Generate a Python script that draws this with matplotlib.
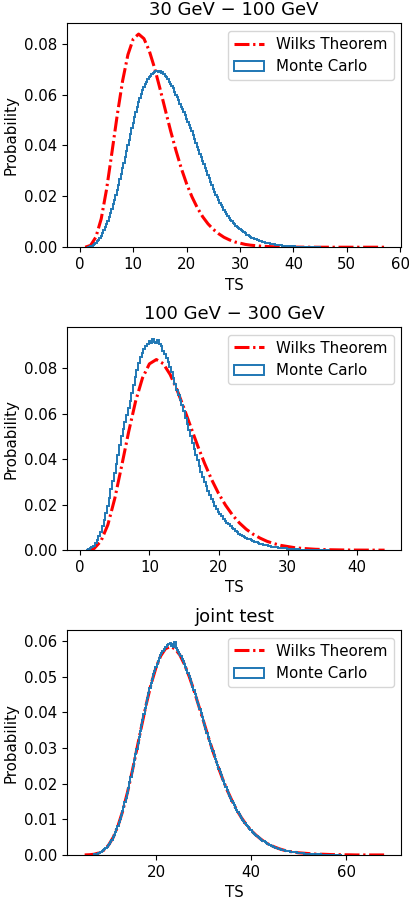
import matplotlib
matplotlib.use('Agg')
import matplotlib.pyplot as plt
import numpy as np

plt.rcParams['font.size'] = 10.8

# titles of the three energy bands
titles = ['30 GeV \u2212 100 GeV', '100 GeV \u2212 300 GeV', 'joint test']

# Wilks theorem curve, TS = 1, 2, 3, ...
wilks_13 = [0.00002, 0.0007, 0.0040, 0.0112, 0.0228, 0.0372, 0.0520, 0.0654, 0.0757, 0.0819,
            0.0838, 0.0820, 0.0772, 0.0704, 0.0624, 0.0540, 0.0457, 0.0380, 0.0310, 0.0249,
            0.0198, 0.0155, 0.0120, 0.0092, 0.0070, 0.0053, 0.0039, 0.0029, 0.0021, 0.0016,
            0.0011, 0.0008, 0.0006, 0.0004, 0.0003, 0.0002, 0.00015, 0.0001, 0.00007, 0.00005,
            0.00004, 0.00003, 0.00002, 0.00001, 0, 0, 0, 0, 0, 0,
            0, 0, 0, 0, 0, 0, 0]
# joint test Wilks curve, TS = 5, 6, 7, ...
wilks_25 = [0.00001, 0.00006, 0.0002, 0.00056, 0.0013, 0.0027, 0.0049, 0.0081, 0.0123, 0.0175,
            0.0234, 0.0298, 0.0363, 0.0425, 0.0480, 0.0525, 0.0558, 0.0578, 0.0584, 0.0578,
            0.0561, 0.0534, 0.0500, 0.0461, 0.0418, 0.0375, 0.0331, 0.0290, 0.0250, 0.0214,
            0.0181, 0.0152, 0.0126, 0.0104, 0.0085, 0.0069, 0.0056, 0.0045, 0.0035, 0.0028,
            0.0022, 0.0017, 0.0013, 0.0010, 0.0008, 0.0006, 0.0005, 0.0004, 0.0003, 0.0002,
            0.0002, 0.00015, 0.0001, 0.00008, 0.00006, 0.00004, 0.00003, 0, 0, 0,
            0, 0, 0, 0]

# Monte Carlo histograms, bins 0.25 wide, first bin centre given
mc1_start = 1.5
mc1 = [0.0001, 0.0002, 0.0003, 0.0005, 0.0008, 0.0012, 0.0017, 0.0023,
       0.0029, 0.0037, 0.0045, 0.0055, 0.0066, 0.0078, 0.0090, 0.0104,
       0.0118, 0.0134, 0.0150, 0.0168, 0.0186, 0.0206, 0.0225, 0.0246,
       0.0267, 0.0288, 0.0310, 0.0333, 0.0355, 0.0378, 0.0400, 0.0423,
       0.0446, 0.0468, 0.0490, 0.0511, 0.0532, 0.0552, 0.0570, 0.0587,
       0.0602, 0.0617, 0.0630, 0.0641, 0.0650, 0.0661, 0.0668, 0.0674,
       0.0682, 0.0685, 0.0688, 0.0692, 0.0694, 0.0689, 0.0692, 0.0686,
       0.0688, 0.0680, 0.0675, 0.0669, 0.0662, 0.0650, 0.0640, 0.0633,
       0.0624, 0.0611, 0.0600, 0.0590, 0.0578, 0.0565, 0.0553, 0.0544,
       0.0532, 0.0518, 0.0505, 0.0493, 0.0480, 0.0468, 0.0455, 0.0441,
       0.0426, 0.0410, 0.0395, 0.0382, 0.0368, 0.0354, 0.0340, 0.0326,
       0.0312, 0.0299, 0.0285, 0.0271, 0.0257, 0.0243, 0.0230, 0.0218,
       0.0207, 0.0196, 0.0185, 0.0175, 0.0166, 0.0157, 0.0148, 0.0139,
       0.0131, 0.0123, 0.0115, 0.0108, 0.0102, 0.0096, 0.0090, 0.0085,
       0.0080, 0.0075, 0.0070, 0.0066, 0.0062, 0.0058, 0.0054, 0.0050,
       0.0047, 0.0044, 0.0041, 0.0038, 0.0036, 0.0033, 0.0031, 0.0029,
       0.0027, 0.0025, 0.0023, 0.0021, 0.0020, 0.0018, 0.0017, 0.0016,
       0.0015, 0.0014, 0.0013, 0.0012, 0.0011, 0.0010, 0.0009, 0.0008,
       0.0007, 0.0007, 0.0006, 0.0006, 0.0005, 0.0005, 0.0004, 0.0004,
       0.0004, 0.0003, 0.0003, 0.0003, 0.0002, 0.0002, 0.0002, 0.0002,
       0.0001, 0.0001, 0.0001, 0.0001, 0.0001, 0.0001, 0.0001, 0.0,
       0.0, 0.0001, 0.0, 0.0, 0.0, 0.0, 0.0]

mc2_start = 1.0
mc2 = [0.0002, 0.0004, 0.0008, 0.0013, 0.0020, 0.0031, 0.0045, 0.0061,
       0.0080, 0.0105, 0.0133, 0.0163, 0.0195, 0.0230, 0.0267, 0.0303,
       0.0340, 0.0380, 0.0420, 0.0461, 0.0500, 0.0533, 0.0565, 0.0596,
       0.0625, 0.0656, 0.0690, 0.0726, 0.0760, 0.0793, 0.0822, 0.0848,
       0.0868, 0.0885, 0.0898, 0.0906, 0.0918, 0.0912, 0.0928, 0.0915,
       0.0910, 0.0922, 0.0905, 0.0897, 0.0875, 0.0862, 0.0845, 0.0826,
       0.0805, 0.0782, 0.0755, 0.0731, 0.0705, 0.0684, 0.0660, 0.0636,
       0.0610, 0.0583, 0.0555, 0.0528, 0.0500, 0.0472, 0.0445, 0.0420,
       0.0395, 0.0370, 0.0345, 0.0322, 0.0300, 0.0280, 0.0260, 0.0242,
       0.0225, 0.0210, 0.0196, 0.0183, 0.0170, 0.0159, 0.0149, 0.0139,
       0.0130, 0.0121, 0.0113, 0.0105, 0.0098, 0.0091, 0.0085, 0.0079,
       0.0073, 0.0068, 0.0063, 0.0059, 0.0055, 0.0051, 0.0047, 0.0043,
       0.0040, 0.0037, 0.0034, 0.0031, 0.0029, 0.0027, 0.0025, 0.0023,
       0.0021, 0.0019, 0.0018, 0.0016, 0.0015, 0.0013, 0.0012, 0.0011,
       0.0010, 0.0009, 0.0008, 0.0008, 0.0007, 0.0006, 0.0006, 0.0005,
       0.0005, 0.0004, 0.0004, 0.0003, 0.0003, 0.0003, 0.0003, 0.0002,
       0.0002, 0.0002, 0.0002, 0.0001, 0.0001, 0.0001, 0.0001, 0.0001,
       0.0001, 0.0, 0.0, 0.0, 0.0]

mc3_start = 7.0
mc3 = [0.0002, 0.0002, 0.0003, 0.0004, 0.0006, 0.0007, 0.0009, 0.0011,
       0.0013, 0.0016, 0.0019, 0.0023, 0.0027, 0.0032, 0.0037, 0.0043,
       0.0049, 0.0056, 0.0064, 0.0072, 0.0081, 0.0091, 0.0101, 0.0112,
       0.0123, 0.0135, 0.0148, 0.0161, 0.0175, 0.0189, 0.0204, 0.0219,
       0.0235, 0.0250, 0.0266, 0.0282, 0.0298, 0.0315, 0.0331, 0.0348,
       0.0364, 0.0379, 0.0394, 0.0411, 0.0426, 0.0441, 0.0455, 0.0468,
       0.0481, 0.0494, 0.0506, 0.0516, 0.0526, 0.0536, 0.0544, 0.0552,
       0.0560, 0.0565, 0.0571, 0.0578, 0.0582, 0.0584, 0.0588, 0.0592,
       0.0594, 0.0586, 0.0590, 0.0584, 0.0597, 0.0580, 0.0574, 0.0569,
       0.0562, 0.0557, 0.0550, 0.0543, 0.0536, 0.0527, 0.0518, 0.0510,
       0.0501, 0.0492, 0.0482, 0.0472, 0.0462, 0.0451, 0.0440, 0.0430,
       0.0419, 0.0408, 0.0397, 0.0386, 0.0375, 0.0364, 0.0353, 0.0342,
       0.0331, 0.0320, 0.0310, 0.0300, 0.0290, 0.0280, 0.0270, 0.0260,
       0.0251, 0.0241, 0.0232, 0.0223, 0.0214, 0.0206, 0.0198, 0.0190,
       0.0182, 0.0174, 0.0166, 0.0159, 0.0152, 0.0145, 0.0139, 0.0132,
       0.0126, 0.0120, 0.0115, 0.0109, 0.0104, 0.0099, 0.0094, 0.0089,
       0.0085, 0.0081, 0.0077, 0.0073, 0.0069, 0.0065, 0.0062, 0.0059,
       0.0056, 0.0053, 0.0050, 0.0047, 0.0045, 0.0042, 0.0040, 0.0038,
       0.0036, 0.0034, 0.0032, 0.0030, 0.0028, 0.0026, 0.0025, 0.0023,
       0.0022, 0.0020, 0.0019, 0.0018, 0.0017, 0.0016, 0.0015, 0.0014,
       0.0013, 0.0012, 0.0012, 0.0011, 0.0010, 0.0009, 0.0009, 0.0008,
       0.0008, 0.0007, 0.0007, 0.0006, 0.0006, 0.0005, 0.0005, 0.0005,
       0.0005, 0.0004, 0.0004, 0.0004, 0.0004, 0.0003, 0.0003, 0.0003,
       0.0003, 0.0002, 0.0002, 0.0002, 0.0002, 0.0002, 0.0002, 0.0001,
       0.0001, 0.0001, 0.0001, 0.0001, 0.0001, 0.0001, 0.0001, 0.0001,
       0.0001, 0.0001, 0.0, 0.0, 0.0001, 0.0, 0.0, 0.0,
       0.0]

bin_w = 0.25

ts_13 = np.arange(1, len(wilks_13) + 1)
ts_25 = np.arange(5, 5 + len(wilks_25))

panels = [
    (ts_13, wilks_13, mc1_start, mc1, (-2.4, 60.2), 0.088),
    (ts_13[:44], wilks_13[:44], mc2_start, mc2, (-1.9, 46.4), 0.098),
    (ts_25, wilks_25, mc3_start, mc3, (1.3, 71.6), 0.063),
]

fig = plt.figure(figsize=(4.09, 8.99), dpi=100)
rects = [[0.164, 0.725, 0.817, 0.249],
         [0.164, 0.388, 0.817, 0.248],
         [0.164, 0.049, 0.817, 0.250]]

for rect, title, (ts, wilks, start, mc, xl, ytop) in zip(rects, titles, panels):
    ax = fig.add_axes(rect)
    mc = np.array(mc)
    edges = start - bin_w / 2 + bin_w * np.arange(len(mc) + 1)
    centres = edges[:-1] + bin_w / 2
    ax.plot(ts, wilks, color='red', ls=(0, (4.9, 1.2, 0.75, 1.2)), lw=2.2,
            label='Wilks Theorem')
    ax.hist(centres, bins=edges, weights=mc, histtype='step', lw=1.4, label='Monte Carlo')
    ax.set_xlim(*xl)
    ax.set_ylim(0, ytop)
    ax.set_title(title)
    ax.set_xlabel('TS')
    ax.set_ylabel('Probability')
    ax.legend(loc='upper right')

fig.savefig('out.png', dpi=100)
